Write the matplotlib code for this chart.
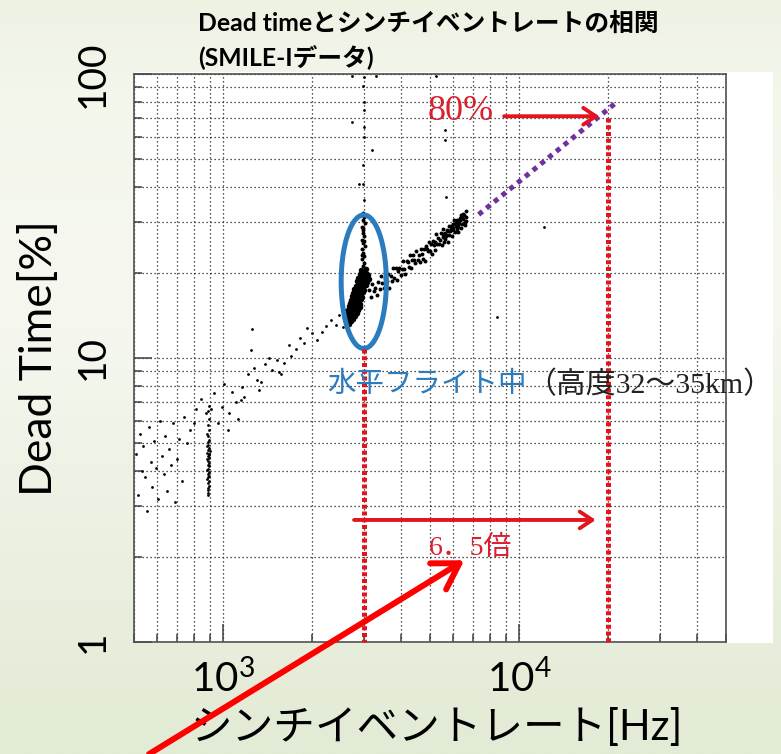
import numpy as np
import matplotlib.pyplot as plt
from matplotlib.patches import Rectangle

plt.rcParams['font.family'] = ['Lato', 'Noto Sans CJK JP']
plt.rcParams['mathtext.fontset'] = 'custom'
plt.rcParams['mathtext.rm'] = 'Lato'
plt.rcParams['mathtext.it'] = 'Lato:italic'
plt.rcParams['mathtext.bf'] = 'Lato:bold'

# --- scatter data: scintillator event rate [Hz] vs dead time [%] ---
# low-rate points near the ground
low_x = [508, 515, 522, 531, 538, 546, 553, 561, 569, 577, 586, 594, 603, 611,
         620, 629, 638, 647, 656, 666, 676, 687, 698, 710, 724, 739, 754, 772]
low_y = [4.6, 3.3, 5.4, 4.0, 4.9, 3.8, 2.9, 5.7, 4.3, 3.5, 5.1, 4.1, 3.2, 6.0,
         4.5, 3.9, 5.3, 3.4, 4.8, 4.2, 5.9, 3.1, 4.4, 5.2, 3.7, 6.2, 5.0, 5.6]

# vertical streak at ~900 Hz
streak_x = [893, 887, 896, 884, 890, 899, 886, 892, 881, 895, 889, 902, 885, 893,
            888, 897, 883, 891, 894, 886, 899, 890, 884, 893, 888, 896, 891, 885,
            894, 889, 898, 887, 892, 890, 886, 895, 889, 893]
streak_y = [6.1, 5.8, 5.6, 5.4, 5.3, 5.15, 5.05, 4.95, 4.9, 4.82, 4.75, 4.7, 4.63, 4.58,
            4.5, 4.45, 4.4, 4.33, 4.27, 4.2, 4.15, 4.08, 4.02, 3.96, 3.9, 3.85, 3.8, 3.74,
            3.68, 3.62, 3.55, 3.48, 3.42, 3.35, 3.28, 4.55, 6.5, 6.8]

# ascent: sparse trail between the two clusters
ascent_x = [797, 812, 840, 876, 911, 935, 960, 992, 1010, 1040, 1048, 1075, 1106, 1120,
            1150, 1160, 1178, 1210, 1243, 1253, 1270, 1303, 1323, 1343, 1380, 1430, 1465,
            1520, 1545, 1570, 1610, 1670, 1700, 1765, 1820, 1880, 1920, 2000, 2080, 2160,
            2230, 2315, 2410, 2470, 2540, 2580]
ascent_y = [5.9, 6.6, 7.2, 6.4, 6.6, 7.5, 5.9, 6.7, 8.1, 5.6, 6.4, 7.6, 7.0, 6.1,
            7.1, 7.9, 7.3, 8.8, 10.7, 12.7, 9.2, 8.4, 7.7, 8.2, 9.5, 10.0, 9.1,
            9.8, 8.9, 8.8, 9.6, 11.1, 10.2, 10.8, 11.8, 11.3, 12.8, 12.2, 11.6, 12.3,
            13.0, 13.6, 13.1, 14.2, 12.9, 14.6]

# level flight (32-35 km): dense cluster at ~3 kHz
level_x = [2640, 2700, 2755, 2625, 2682, 2738, 2796, 2652, 2714, 2768, 2826, 2633, 2689,
           2747, 2803, 2858, 2661, 2722, 2776, 2842, 2893, 2678, 2741, 2797, 2848, 2908,
           2702, 2758, 2818, 2872, 2928, 2718, 2784, 2833, 2891, 2952, 2743, 2798, 2862,
           2914, 2973, 2772, 2829, 2887, 2943, 2998, 2801, 2858, 2917, 2968, 3028, 2833,
           2892, 2944, 3003, 3058, 2862, 2921, 2978, 3041, 2893, 2948, 3012, 3068, 2922,
           2983, 3047, 2740, 2815, 2905, 2600, 2585, 2660, 3090, 3110]
level_y = [13.6, 13.5, 13.7, 14.0, 14.1, 13.9, 14.0, 14.4, 14.3, 14.5, 14.4, 14.8, 14.7,
           14.9, 14.8, 14.7, 15.2, 15.1, 15.3, 15.2, 15.1, 15.6, 15.5, 15.7, 15.6, 15.5,
           16.0, 16.1, 15.9, 16.0, 16.1, 16.5, 16.4, 16.6, 16.5, 16.4, 17.0, 17.1, 16.9,
           17.0, 17.1, 17.5, 17.4, 17.6, 17.5, 17.4, 18.0, 18.1, 17.9, 18.0, 18.1, 18.6,
           18.5, 18.7, 18.6, 18.5, 19.2, 19.1, 19.3, 19.2, 19.8, 19.9, 19.7, 19.8, 20.4,
           20.3, 20.5, 15.3, 16.2, 17.7, 14.6, 13.8, 13.2, 19.6, 18.9]

level_top_x = [2960, 2985, 2940, 2990, 2970, 2950, 3005, 2975, 2945, 2995, 2965, 2980,
               2955, 3010, 2970, 2990, 2960, 2935, 2985, 2975]
level_top_y = [21.0, 21.6, 22.3, 22.9, 23.5, 24.2, 24.8, 25.5, 26.1, 26.9, 27.6, 28.3,
               29.0, 29.8, 30.6, 31.4, 32.3, 23.0, 25.9, 28.8]

# stray points
stray_x = [2990, 2980, 2995, 2985, 2990, 2995, 2975, 3190, 2730, 2880, 2730, 3290,
           5250, 5670, 5600, 5630, 12170, 8420, 2970, 3000]
stray_y = [97.5, 91.0, 79.7, 74.6, 65.0, 60.0, 41.0, 54.0, 67.5, 41.0, 98.5, 98.5,
           98.5, 36.8, 63.5, 58.5, 28.9, 13.9, 48.0, 36.0]

# rising band from 3 kHz to 6.6 kHz
band_x = [3120, 3160, 3195, 3230, 3270, 3300, 3345, 3380, 3410, 3455, 3490, 3530, 3565,
          3600, 3640, 3680, 3715, 3750, 3790, 3830, 3865, 3900, 3940, 3980, 4015, 4050,
          4090, 4130, 4165, 4200, 4240, 4280, 4315, 4350, 4390, 4430, 4465, 4500, 4540,
          4580, 4615, 4650, 4690, 4730, 4765, 4800, 4840, 4880, 4915, 4950, 4990, 5030,
          5065, 5100, 5140, 5180, 5215, 5250, 5290, 5330, 5365, 5400, 5440, 5480, 5515,
          5550, 5590, 5630, 5665, 5700, 5740, 5780, 5815, 5850, 5890, 5930, 5965, 6000,
          6040, 6080, 6115, 6150, 6190, 6230, 6265, 6300, 6340, 6380, 6415, 6450, 6490,
          6530, 6565, 6600, 6640, 6620, 6480, 6200, 5950, 5620, 5520, 5760, 5980, 6210,
          6420, 6560, 6330, 6100, 5870, 5680]
band_y = [17.4, 16.4, 18.2, 17.2, 17.7, 16.6, 18.5, 17.5, 19.4, 18.3, 17.6, 19.1, 18.6,
          19.7, 17.7, 19.5, 18.7, 20.7, 19.2, 20.8, 18.8, 20.2, 20.8, 19.6, 20.6, 21.9,
          20.6, 19.7, 21.9, 21.7, 20.9, 23.1, 20.7, 22.1, 23.0, 22.1, 21.6, 23.9, 22.2,
          23.1, 21.7, 24.2, 23.3, 22.4, 24.2, 22.0, 24.7, 24.2, 23.8, 25.7, 23.8, 25.1,
          23.2, 25.9, 24.9, 25.6, 24.1, 27.3, 25.1, 26.5, 25.1, 26.1, 27.5, 24.9, 26.7,
          28.4, 25.7, 27.6, 26.8, 28.3, 25.7, 29.2, 27.0, 27.9, 29.2, 26.8, 28.8, 28.3,
          30.7, 27.8, 29.8, 28.5, 30.7, 27.8, 29.8, 30.7, 28.6, 31.9, 29.7, 30.9, 29.6,
          31.9, 29.3, 31.3, 30.4, 33.0, 32.2, 29.5, 28.9, 26.3, 27.4, 28.0, 29.6, 29.0,
          31.0, 30.2, 31.1, 29.1, 28.5, 27.2]

# extrapolation and annotation anchors
extrap_x = [7300, 21500]
extrap_y = [32, 80]
level_rate = 3000
rate_80 = 20000
ellipse_x = [2505, 3560]
ellipse_y = [10.8, 31.9]

red = '#e3141e'
txt_red = '#d9202e'
blue = '#2b7bbf'
purple = '#7030a0'

W, H = 781, 754
fig = plt.figure(figsize=(W / 100, H / 100), dpi=100)

# slide background: soft green vertical gradient
bg = fig.add_axes([0, 0, 1, 1], zorder=-10)
stops = [0.0, 0.12, 0.4, 0.7, 1.0]
cols = np.array([[238, 242, 227], [243, 246, 235], [246, 248, 240],
                 [236, 241, 226], [226, 235, 213]]) / 255
t = np.linspace(0, 1, 300)
grad = np.stack([np.interp(t, stops, cols[:, i]) for i in range(3)], axis=-1)
bg.imshow(grad[:, None, :], aspect='auto', extent=[0, 1, 0, 1])
bg.add_patch(Rectangle((134 / W, 111 / H), 639 / W, 571 / H, color='white', lw=0))
bg.set_xlim(0, 1)
bg.set_ylim(0, 1)
bg.axis('off')

ax = fig.add_axes([134 / W, 112 / H, 592 / W, 568 / H])
ax.set_xscale('log')
ax.set_yscale('log')
ax.set_xlim(500, 50000)
ax.set_ylim(1, 100)
ax.set_facecolor('white')
ax.grid(True, which='both', color='#1a1a1a', linestyle=(0, (1, 2.2)), linewidth=0.9)
ax.set_axisbelow(True)

for s in ax.spines.values():
    s.set_color('#505050')
    s.set_linewidth(1.2)

ax.tick_params(which='both', direction='in', top=False, right=False,
               color='#404040', width=1.1)
ax.tick_params(which='major', length=13)
ax.tick_params(which='minor', length=6)
ax.tick_params(axis='x', which='major', pad=12, labelsize=29)
ax.tick_params(axis='y', which='major', pad=17, labelsize=28)
ax.set_xticks([1000, 10000])
ax.set_xticklabels([r'$\mathregular{10^3}$', r'$\mathregular{10^4}$'])
ax.set_yticks([1, 10, 100])
ax.set_yticklabels(['1', '10', '100'], rotation=90, va='center', ha='right')

ax.set_xlabel('シンチイベントレート[Hz]', fontsize=30, va='center')
ax.xaxis.set_label_coords(0.512, -0.151)
ax.set_ylabel('Dead Time[%]', fontsize=32, va='center')
ax.yaxis.set_label_coords(-0.159, 0.5)

# measured points
ax.scatter(low_x + streak_x + ascent_x + stray_x, low_y + streak_y + ascent_y + stray_y,
           s=4, c='black', linewidths=0, zorder=3)
ax.scatter(level_top_x + band_x, level_top_y + band_y, s=8, c='black', linewidths=0, zorder=3)
ax.scatter(level_x, level_y, s=16, c='black', linewidths=0, zorder=3)

# level-flight ellipse (drawn in log space so it stays round on screen)
lx = np.log10(ellipse_x)
ly = np.log10(ellipse_y)
th = np.linspace(0, 2 * np.pi, 200)
ex = 10 ** (lx.mean() + (lx[1] - lx[0]) / 2 * np.cos(th))
ey = 10 ** (ly.mean() + (ly[1] - ly[0]) / 2 * np.sin(th))
ax.plot(ex, ey, color=blue, lw=3.6, zorder=5)

# vertical guides at level-flight rate and at 80 % dead time
ax.plot([level_rate, level_rate], [ellipse_y[0], 1], color=red, lw=3.6,
        linestyle=(0, (0.8, 0.55)), zorder=6, clip_on=False)
ax.plot([rate_80, rate_80], [70, 1], color=red, lw=3.6,
        linestyle=(0, (0.8, 0.55)), zorder=6, clip_on=False)

# extrapolation of the dead time trend
ax.plot(extrap_x, extrap_y, color=purple, lw=3.6, linestyle=(0, (1, 1)), zorder=6)

arrow = dict(arrowstyle='->,head_length=0.45,head_width=0.3', color=red, lw=2.8,
             mutation_scale=20, shrinkA=0, shrinkB=0)
ax.annotate('', xy=(18660, 71), xytext=(8900, 71), arrowprops=arrow, zorder=7)
ax.annotate('', xy=(18150, 2.69), xytext=(2770, 2.69), arrowprops=arrow, zorder=7)

big = dict(arrowstyle='->,head_length=0.9,head_width=0.55', color='#ff0000', lw=4.3,
           mutation_scale=20, shrinkA=0, shrinkB=0)
ax.annotate('', xy=(6530, 1.94), xytext=(562, 0.403), arrowprops=big, zorder=8,
            annotation_clip=False)

serif = ['Liberation Serif', 'Noto Sans CJK JP']
ax.text(6330, 74, '80%', color=txt_red, fontsize=26, family=serif,
        ha='center', va='center', zorder=7)
ax.text(6870, 2.14, '6．5倍', color=txt_red, fontsize=20, family=serif,
        ha='center', va='center', zorder=7)
t1 = ax.text(2245, 8.05, '水平フライト中', color=blue, fontsize=20.5, family=serif,
             ha='left', va='center', zorder=7)
ax.annotate('（高度32～35km）', xy=(1, 0.5), xycoords=t1, color='#222222',
            fontsize=21.5, family=serif, ha='left', va='center', zorder=7)

fig.text(198 / W, 1 - 23 / H, 'Dead timeとシンチイベントレートの相関',
         fontsize=17.8, fontweight='bold', ha='left', va='center')
fig.text(198 / W, 1 - 57 / H, '(SMILE-Iデータ)',
         fontsize=17.8, fontweight='bold', ha='left', va='center')

fig.savefig('out.png', dpi=100)
